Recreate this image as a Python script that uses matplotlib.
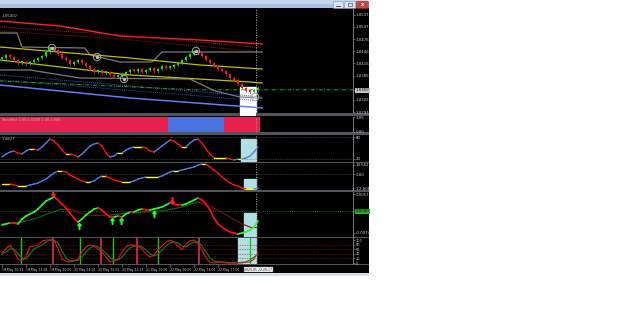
import numpy as np
import matplotlib
matplotlib.use("Agg")
import matplotlib.pyplot as plt
from matplotlib.patches import Rectangle
from matplotlib.collections import LineCollection

# ---------------- data ----------------
bars = np.arange(65)
first_open = 1.0428
close = [1.0430, 1.0437, 1.0432, 1.0425, 1.0417, 1.0420, 1.0415, 1.0420, 1.0425, 1.0430,
         1.0435, 1.0445, 1.0455, 1.0450, 1.0440, 1.0430, 1.0425, 1.0415, 1.0420, 1.0425,
         1.0417, 1.0410, 1.0402, 1.0395, 1.0400, 1.0392, 1.0395, 1.0387, 1.0382, 1.0385,
         1.0390, 1.0395, 1.0400, 1.0397, 1.0402, 1.0395, 1.0400, 1.0405, 1.0397, 1.0402,
         1.0410, 1.0405, 1.0407, 1.0412, 1.0417, 1.0425, 1.0432, 1.0440, 1.0447, 1.0442,
         1.0435, 1.0425, 1.0417, 1.0410, 1.0402, 1.0397, 1.0390, 1.0380, 1.0375, 1.0365,
         1.0355, 1.0347, 1.0345, 1.0350, 1.0355]
bid = 1.0350

circle_x = [12.5, 23.75, 30.5, 48.5, 63.25]
circle_y = [1.04545, 1.0432, 1.0377, 1.0447, 1.0332]

red_x = [-0.5, 14.5, 29.5, 49.5, 65]
red_y = [1.0522, 1.05095, 1.04845, 1.04745, 1.04645]
reddot_x = [-0.5, 29.5, 65]
reddot1_y = [1.0507, 1.0487, 1.0455]
reddot2_y = [1.0497, 1.0477, 1.04445]
grey_up_x = [-0.5, 3.75, 5, 20.75, 22, 29.5, 37.5, 40, 65]
grey_up_y = [1.0492, 1.0492, 1.0457, 1.04545, 1.0437, 1.04195, 1.04195, 1.04445, 1.04445]
grey_lo_x = [-0.5, 7, 19.5, 47, 53.25, 59.5, 65]
grey_lo_y = [1.03995, 1.03995, 1.03795, 1.0377, 1.0347, 1.0332, 1.03295]
yel_up_x = [-0.5, 32, 49.5, 65]
yel_up_y = [1.0457, 1.04295, 1.0412, 1.0402]
yel_lo_x = [-0.5, 32, 62, 65]
yel_lo_y = [1.04245, 1.0387, 1.03695, 1.0367]
bdot_x = [-0.5, 65]
bdot1_y = [1.0387, 1.0332]
bdot2_y = [1.03745, 1.0322]
blue_x = [-0.5, 32, 62, 65]
blue_y = [1.0362, 1.03295, 1.0307, 1.03045]
gdd_x = [-0.5, 48.75, 88]
gdd_y = [1.0372, bid, bid]

price_ticks = [1.0537, 1.0507, 1.0476, 1.0446, 1.0416, 1.0385, bid, 1.0325, 1.0294]
price_labels = ["1.0537", "1.0507", "1.0476", "1.0446", "1.0416", "1.0385", "1.0350", "1.0325", "1.0294"]

hist_state = [1] * 42 + [-1] * 14 + [1] * 9
hist_level = 1.05

osc1 = [25.5, 33.6, 39.1, 41.8, 36.4, 33.6, 41.8, 47.3, 47.3, 44.5,
        52.7, 63.6, 74.5, 69.1, 58.2, 44.5, 33.6, 33.6, 30.9, 25.5,
        33.6, 44.5, 55.5, 60.9, 63.6, 55.5, 36.4, 25.5, 28.2, 36.4,
        36.4, 44.5, 50.0, 52.7, 52.7, 52.7, 50.0, 41.8, 39.1, 47.3,
        55.5, 63.6, 71.8, 69.1, 60.9, 52.7, 52.7, 63.6, 71.8, 74.5,
        63.6, 47.3, 33.6, 22.7, 22.7, 22.7, 22.7, 20.0, 17.3, 20.0,
        20.0, 22.7, 28.2, 39.1, 52.7]

osc2 = [-16.3, -16.3, -16.3, -17.9, -19.5, -19.5, -19.5, -17.9, -16.3, -14.7,
        -11.4, -8.1, -3.3, 1.6, 4.9, 4.9, 3.3, -1.6, -4.9, -8.1,
        -11.4, -13.0, -13.0, -11.4, -6.5, -3.3, -3.3, -6.5, -9.8, -11.4,
        -13.0, -13.0, -13.0, -11.4, -8.1, -6.5, -4.9, -4.9, -4.9, -4.9,
        -3.3, 0.0, 3.3, 4.9, 4.9, 6.5, 8.1, 9.8, 11.4, 14.7,
        16.3, 16.3, 11.4, 6.5, 1.6, -4.9, -9.8, -14.7, -17.9, -19.5,
        -22.8, -24.4, -24.4, -24.4, -22.8]

macd = [-0.00476, -0.00442, -0.00408, -0.00408, -0.00442, -0.00272, -0.00170, -0.00102, -0.00034, 0.00068,
        0.00204, 0.00340, 0.00408, 0.00476, 0.00374, 0.00238, 0.00102, -0.00068, -0.00238, -0.00374,
        -0.00272, -0.00136, -0.00034, 0.00068, 0.00102, 0.00034, -0.00102, -0.00204, -0.00204, -0.00170,
        -0.00204, -0.00102, -0.00034, -0.00034, 0.00034, 0.00068, 0.00034, 0.00034, 0.00068, 0.00102,
        0.00136, 0.00204, 0.00272, 0.00238, 0.00204, 0.00204, 0.00238, 0.00306, 0.00374, 0.00442,
        0.00374, 0.00238, 0.00034, -0.00238, -0.00442, -0.00544, -0.00646, -0.00714, -0.00748, -0.00782,
        -0.00748, -0.00714, -0.00646, -0.00544, -0.00340]
signal_x = [0, 5, 8, 12, 15, 17, 19, 21, 24, 27, 32, 40, 45, 49, 53, 57, 60, 62, 64]
signal_y = [-0.00442, -0.00374, -0.00272, -0.00068, 0.00068, 0.00068, -0.00034, -0.00136, -0.00136,
            -0.00136, -0.00068, 0.0, 0.00136, 0.00306, 0.00102, -0.00204, -0.00442, -0.00544, -0.00544]
sell_x = [12.75, 42.5]
sell_y = [0.00612, 0.00374]
buy_x = [19.25, 27.5, 29.75, 38]
buy_y = [-0.0051, -0.0034, -0.0034, -0.00102]

stoch_main = [43, 61, 78, 52, 17, 9, 30, 70, 74, 78,
              96, 100, 100, 100, 65, 17, 9, 4, 9, 17,
              48, 70, 78, 74, 61, 48, 26, 4, 9, 17,
              48, 70, 78, 78, 74, 61, 39, 26, 35, 57,
              74, 91, 100, 91, 74, 57, 83, 96, 100, 83,
              57, 22, 4, 0, 4, 4, 0, 0, 0, 0,
              0, 4, 4, 17, 48]
stoch_signal = [39, 48, 61, 61, 39, 22, 17, 39, 61, 70,
                78, 91, 100, 100, 87, 52, 22, 9, 9, 13,
                26, 48, 65, 74, 70, 57, 43, 22, 13, 13,
                26, 48, 65, 74, 74, 70, 57, 39, 30, 39,
                57, 74, 87, 91, 87, 74, 70, 83, 91, 91,
                74, 48, 22, 9, 4, 4, 4, 0, 0, 0,
                4, 4, 13, 26, 35]
cross_up = [4.75, 19.5, 27.75, 39, 62]
cross_dn = [12.75, 24.75, 33.75, 49.25]

time_ticks = [0, 6, 12, 18, 24, 30, 36, 42, 48, 54]
time_labels = ["19 May 10:19", "19 May 13:28", "19 May 20:00", "20 May 04:10", "20 May 15:05",
               "20 May 23:27", "21 May 10:06", "22 May 06:00", "22 May 13:00", "22 May 17:00"]
cursor_bar = 63.5
cursor_label = "2025.05.22 20:17"

# ---------------- figure ----------------
W, H = 625, 330
fig = plt.figure(figsize=(W / 100, H / 100), dpi=100, facecolor="white")

bg = fig.add_axes([0, 0, 1, 1])
bg.set_xlim(0, W)
bg.set_ylim(H, 0)
bg.axis("off")
bg.set_zorder(-10)

def rect(x0, y0, x1, y1, color, **kw):
    bg.add_patch(Rectangle((x0, y0), x1 - x0, y1 - y0, facecolor=color, edgecolor=kw.pop("ec", "none"),
                           linewidth=kw.pop("lw", 0), **kw))

# window chrome
rect(0, 0, 368, 4, "#c3d6ee")
rect(0, 4, 368, 8, "#a9c2e3")
rect(0, 8, 369, 273, "#000000")
rect(333, 1, 343, 7.5, "#dbe5f2", ec="#7f93ad", lw=0.4)
rect(344, 1, 355, 7.5, "#dbe5f2", ec="#7f93ad", lw=0.4)
rect(356, 1, 368, 7.5, "#c9463d", ec="#8a2a24", lw=0.4)
bg.plot([336, 340], [5.5, 5.5], color="#333333", lw=0.6)
bg.add_patch(Rectangle((347.5, 2.5), 4, 3.5, fill=False, edgecolor="#333333", lw=0.4))
bg.text(362, 4.3, "x", color="white", fontsize=3.5, ha="center", va="center", fontweight="bold")
for y0, y1 in [(113.4, 116.4), (132.4, 134.6), (162.0, 163.0), (190.0, 191.8), (237.0, 238.0), (264.0, 265.0)]:
    rect(0, y0, 369, y1, "#50545c")
rect(0, 272.5, 369, 276, "#d5dde8")
rect(240, 113, 256, 116.4, "white")

def px_axes(x0, y0, x1, y1):
    ax = fig.add_axes([x0 / W, 1 - y1 / H, (x1 - x0) / W, (y1 - y0) / H])
    ax.set_facecolor("black")
    for s in ["top", "bottom", "left"]:
        ax.spines[s].set_visible(False)
    ax.spines["right"].set_color("#8a8a8a")
    ax.spines["right"].set_linewidth(0.6)
    ax.set_xlim(-0.5, 87.75)
    ax.set_xticks([])
    ax.yaxis.tick_right()
    ax.tick_params(axis="y", colors="#9a9a9a", labelcolor="#d0d0d0", labelsize=2.8,
                   length=1.5, width=0.4, pad=0.6)
    ax.axvline(cursor_bar, color="#a0a0a0", lw=0.6, ls=(0, (1.5, 1.5)), zorder=6)
    return ax

LBL = dict(fontsize=2.8, color="#bdbdbd")

def colored_line(ax, x, y, up, down, flat, lw, thr=0.0):
    pts = np.column_stack([x, y])
    segs = np.stack([pts[:-1], pts[1:]], axis=1)
    d = np.diff(np.asarray(y, dtype=float))
    cols = [up if v > thr else (down if v < -thr else flat) for v in d]
    ax.add_collection(LineCollection(segs, colors=cols, linewidths=lw, capstyle="round", zorder=4))

# ---------- main price panel ----------
ax = px_axes(0, 9, 353, 113)
ax.set_ylim(1.0552 - 104 * 0.00025, 1.0552)
ax.axvspan(59.5, 63.5, ymin=0, ymax=0.25, color="white", zorder=1)
ax.plot(red_x, red_y, color="#ff2020", lw=1.0, zorder=3)
ax.plot(reddot_x, reddot1_y, color="#b01818", lw=0.7, ls=(0, (1, 1)), zorder=3)
ax.plot(reddot_x, reddot2_y, color="#8a1414", lw=0.7, ls=(0, (1, 1)), zorder=3)
ax.plot(grey_up_x, grey_up_y, color="#7a7a7a", lw=0.9, zorder=3)
ax.plot(grey_lo_x, grey_lo_y, color="#7a7a7a", lw=0.9, zorder=3)
ax.plot(yel_up_x, yel_up_y, color="#c0c000", lw=0.9, zorder=3)
ax.plot(yel_lo_x, yel_lo_y, color="#c0c000", lw=0.9, zorder=3)
ax.plot(bdot_x, bdot1_y, color="#3a5ad0", lw=0.7, ls=(0, (1, 1)), zorder=3)
ax.plot(bdot_x, bdot2_y, color="#2f4cb8", lw=0.7, ls=(0, (1, 1)), zorder=3)
ax.plot(blue_x, blue_y, color="#5f7dff", lw=1.1, zorder=3)
ax.plot(gdd_x, gdd_y, color="#1fae1f", lw=0.7, ls=(0, (4, 1.5, 1, 1.5)), zorder=3)

opens = [first_open] + close[:-1]
for i, (o, c) in enumerate(zip(opens, close)):
    col = "#12e012" if c > o else "#ff1a1a"
    lo, hi = min(o, c), max(o, c)
    ax.plot([i, i], [lo - 0.0003, hi + 0.0003], color=col, lw=0.5, zorder=4)
    ax.bar(i, max(hi - lo, 0.0004), bottom=lo, width=0.5, color=col, zorder=5)
ax.scatter(circle_x, circle_y, s=28, facecolors="none", edgecolors="#a8a8a8", linewidths=0.7, zorder=6)
ax.scatter(circle_x, circle_y, s=2, color="#c0c0c0", zorder=6)

ax.set_yticks(price_ticks, labels=price_labels)
for t in ax.get_yticklabels():
    if t.get_text() == "1.0350":
        t.set_color("black")
        t.set_bbox(dict(facecolor="#c4c4c4", edgecolor="none", pad=0.4))
ax.text(0.003, 0.955, "1.05402", transform=ax.transAxes, ha="left", va="top", **LBL)

# ---------- histogram panel ----------
ah = px_axes(0, 117, 353, 132)
ah.set_ylim(-0.03, 1.08)
hcols = ["#e8204e" if s > 0 else "#4a72dc" for s in hist_state]
ah.bar(bars, [hist_level] * len(bars), width=0.88, color=hcols, zorder=2)
ah.set_yticks([1.05, 0.0], labels=["1.05", "0.00"])
ah.text(0.003, 0.93, "TrendHist 1.00 1.0000 1.00 1.000", transform=ah.transAxes, ha="left", va="top",
        fontsize=2.5, color="#e8a8b8", zorder=5)

# ---------- oscillator 1 ----------
a3 = px_axes(0, 135, 353, 162)
a3.set_ylim(11.8, 85.5)
a3.axvspan(59.75, 63.5, ymin=0, ymax=0.85, color="#b2dfe6", zorder=1)
for lv in (80, 20):
    a3.axhline(lv, color="#6a6a6a", lw=0.5, ls=(0, (1, 1.5)), zorder=2)
colored_line(a3, bars, osc1, "#4f7fe8", "#ff1010", "#ffff00", 1.0, 0.5)
a3.set_yticks([80, 20], labels=["80", "20"])
a3.text(0.003, 0.93, "1.4827", transform=a3.transAxes, ha="left", va="top", **LBL)

# ---------- oscillator 2 ----------
a4 = px_axes(0, 163, 353, 190)
a4.set_ylim(-26.06, 17.92)
a4.axvspan(60.5, 63.5, ymin=0, ymax=0.41, color="#b2dfe6", zorder=1)
a4.axhline(0, color="#6a6a6a", lw=0.5, ls=(0, (1, 1.5)), zorder=2)
colored_line(a4, bars, osc2, "#4f7fe8", "#ff1010", "#ffff00", 1.0, 0.5)
a4.set_yticks([14.6627, 0, -22.806], labels=["14.6627", "0.00", "-22.806"])

# ---------- MACD-like panel ----------
a5 = px_axes(0, 192, 353, 237)
a5.set_ylim(-0.00884, 0.00646)
a5.axvspan(60.5, 63.5, ymin=0, ymax=0.533, color="#b2dfe6", zorder=1)
a5.axhline(0, color="#1a8a1a", lw=0.6, ls=(0, (1, 1.5)), zorder=2)
colored_line(a5, signal_x, signal_y, "#0b6a0b", "#7a0f0f", "#7a0f0f", 0.8)
colored_line(a5, bars, macd, "#22ff22", "#ff1010", "#ff1010", 1.2)
a5.plot(sell_x, sell_y, ls="none", marker=r"$\downarrow$", ms=4, color="#ff2020", zorder=6)
a5.plot(buy_x, buy_y, ls="none", marker=r"$\uparrow$", ms=4, color="#22ff22", zorder=6)
a5.set_yticks([0.0057, 0.0, -0.0074], labels=["0.0057", "0.0000", "-0.0074"])
for t in a5.get_yticklabels():
    if t.get_text() == "0.0000":
        t.set_color("black")
        t.set_bbox(dict(facecolor="#1db31d", edgecolor="none", pad=0.4))

# ---------- stochastic panel ----------
a6 = px_axes(0, 238, 353, 264)
a6.set_ylim(-4.3, 108.7)
a6.axvspan(59.0, 63.5, color="#b2dfe6", zorder=1)
for lv in (80, 60, 40, 20):
    a6.axhline(lv, color="#a01818", lw=0.5, ls=(0, (1, 1.5)), zorder=2)
for xb in cross_up:
    a6.axvline(xb, color="#1fc21f", lw=1.0, zorder=3)
for xb in cross_dn:
    a6.axvline(xb, color="#ea2f5c", lw=1.1, zorder=3)
a6.plot(bars, stoch_signal, color="#0f8a0f", lw=0.8, zorder=4)
a6.plot(bars, stoch_main, color="#ee1111", lw=0.8, zorder=5)
a6.set_yticks([100, 80, 60, 40, 20, 0], labels=["100", "80", "60", "40", "20", "0"])
a6.tick_params(axis="y", labelsize=2.5)

a6.set_xticks(time_ticks, labels=time_labels)
a6.tick_params(axis="x", colors="#9a9a9a", labelcolor="#d0d0d0", labelsize=2.25, length=2.0,
               width=0.4, pad=0.8, direction="out")
for t in a6.get_xticklabels():
    t.set_ha("left")
a6.annotate(cursor_label, xy=(cursor_bar, 0), xycoords=("data", "axes fraction"),
            xytext=(1.5, -4.0), textcoords="offset points", ha="center", va="center",
            fontsize=2.25, color="black",
            bbox=dict(facecolor="white", edgecolor="#808080", lw=0.3, pad=0.4), annotation_clip=False)

fig.savefig("out.png", dpi=100, facecolor="white")
